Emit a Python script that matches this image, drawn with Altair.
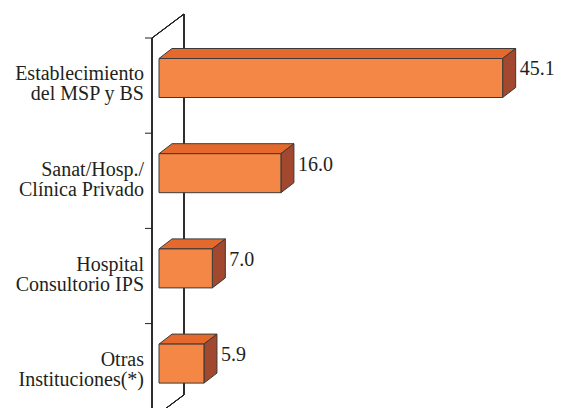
import altair as alt
import pandas as pd

# ---- data ----
categories = [
    "Establecimiento\ndel MSP y BS",
    "Sanat/Hosp./\nClínica Privado",
    "Hospital\nConsultorio IPS",
    "Otras\nInstituciones(*)",
]
values = [45.1, 16.0, 7.0, 5.9]
value_labels = ["45.1", "16.0", "7.0", "5.9"]

# ---- styling ----
FRONT_COLOR = "#F58746"
TOP_COLOR = "#E5692D"
SIDE_COLOR = "#A1482E"
EDGE = "#3a3a3a"
TEXT = "#231f20"
FONT = "Liberation Serif"
FS = 20

W, H = 381, 370           # plot area
X_MAX = 50.0
BAND_PX = 95.2            # height of one category band in px
PX_X = W / X_MAX
Y_MAX = H / BAND_PX

DX = 13 / PX_X            # 3-D depth of bars
DY = 10 / BAND_PX
FT = 20.5 / BAND_PX       # front face top within band
FB = 59.5 / BAND_PX       # front face bottom within band
AXIS_X = -7 / PX_X
WALL_X = AXIS_X + 32 / PX_X
WALL_DY = 24 / BAND_PX
TICK_X = AXIS_X - 7 / PX_X
VAL_Y = 0.33
CAT_Y = 0.383
n = len(categories)

bars = pd.DataFrame({"cat": categories, "value": values,
                     "label": value_labels, "idx": list(range(n))})

top_rows = []
side_rows = []
for i, (c, v) in enumerate(zip(categories, values)):
    top_rows.append({"cat": c, "y": i + FT, "x": 0.0, "x2": v})
    top_rows.append({"cat": c, "y": i + FT - DY, "x": DX, "x2": v + DX})
    side_rows.append({"cat": c, "x": v, "y": i + FT, "y2": i + FB})
    side_rows.append({"cat": c, "x": v + DX, "y": i + FT - DY, "y2": i + FB - DY})
top_df = pd.DataFrame(top_rows)
side_df = pd.DataFrame(side_rows)
ticks_df = pd.DataFrame({"t": list(range(n + 1))})

xs = alt.Scale(domain=[0, X_MAX], nice=False, zero=False)
ys = alt.Scale(domain=[0, Y_MAX], nice=False, zero=False, reverse=True)

front = alt.Chart(bars).transform_calculate(
    top=f"datum.idx + {FT}", bottom=f"datum.idx + {FB}", zero="0"
).mark_rect(fill=FRONT_COLOR, stroke=EDGE, strokeWidth=1).encode(
    x=alt.X("zero:Q", scale=xs, axis=None),
    x2="value:Q",
    y=alt.Y("top:Q", scale=ys, axis=None),
    y2="bottom:Q",
)

top_face = alt.Chart(top_df).mark_area(orient="horizontal", fill=TOP_COLOR, stroke=EDGE,
                                       strokeWidth=1, interpolate="linear").encode(
    y=alt.Y("y:Q", scale=ys, axis=None),
    x=alt.X("x:Q", scale=xs, axis=None),
    x2="x2:Q",
    detail="cat:N",
)

side_face = alt.Chart(side_df).mark_area(orient="vertical", fill=SIDE_COLOR, stroke=EDGE,
                                         strokeWidth=1, interpolate="linear").encode(
    x=alt.X("x:Q", scale=xs, axis=None),
    y=alt.Y("y:Q", scale=ys, axis=None),
    y2="y2:Q",
    detail="cat:N",
)

val_text = alt.Chart(bars).transform_calculate(
    xl=f"datum.value + {DX}", yl=f"datum.idx + {VAL_Y}"
).mark_text(align="left", baseline="middle", dx=4, font=FONT, fontSize=FS, color=TEXT).encode(
    x=alt.X("xl:Q", scale=xs, axis=None),
    y=alt.Y("yl:Q", scale=ys, axis=None),
    text="label:N",
)

cat_text = alt.Chart(bars).transform_calculate(
    yl=f"datum.idx + {CAT_Y}"
).mark_text(align="right", baseline="middle", lineBreak="\n", lineHeight=20,
            font=FONT, fontSize=FS, color=TEXT).encode(
    x=alt.value(-15),
    y=alt.Y("yl:Q", scale=ys, axis=None),
    text="cat:N",
)

ticks = alt.Chart(ticks_df).mark_rule(color=TEXT, strokeWidth=1).encode(
    x=alt.datum(TICK_X, scale=xs, axis=None), x2=alt.datum(AXIS_X),
    y=alt.Y("t:Q", scale=ys, axis=None),
)

def seg(x1, y1, x2, y2):
    return alt.Chart(bars).mark_rule(color=TEXT, strokeWidth=1).encode(
        x=alt.datum(x1, scale=xs, axis=None), x2=alt.datum(x2),
        y=alt.datum(y1, scale=ys, axis=None), y2=alt.datum(y2),
    )

frame = [
    seg(AXIS_X, 0, AXIS_X, n),                       # front axis
    seg(WALL_X, -WALL_DY, WALL_X, n - WALL_DY),      # back wall
    seg(AXIS_X, 0, WALL_X, -WALL_DY),                # top diagonal
    seg(AXIS_X, n, WALL_X, n - WALL_DY),             # bottom diagonal
]

chart = alt.layer(*frame, ticks, top_face, side_face, front, val_text, cat_text).properties(
    width=W, height=H,
    padding={"left": 151, "top": 30, "right": 15, "bottom": 0},
    autosize=alt.AutoSizeParams(type="none"),
    background="white",
).configure_view(stroke=None)

chart.save("out.html", embed_options={"renderer": "svg", "actions": False})
